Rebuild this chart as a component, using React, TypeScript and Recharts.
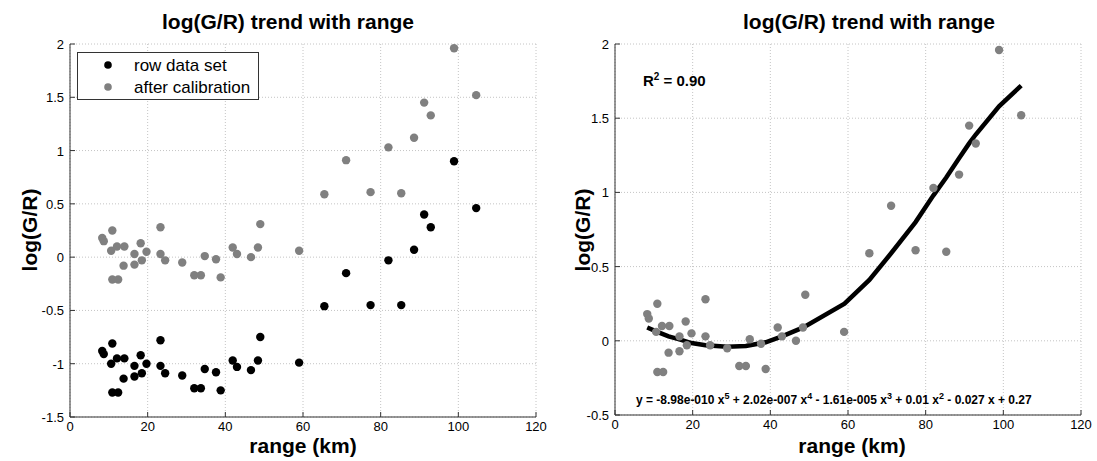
import React from 'react';
import { ScatterChart, ComposedChart, Scatter, Line, XAxis, YAxis, CartesianGrid, Legend } from 'recharts';

// ---- data ----
const rangeKm = [8.3, 8.7, 10.9, 10.6, 12.1, 14.0, 10.9, 12.4, 13.8, 16.6, 16.6, 18.2, 18.5, 19.7, 23.3, 23.3, 24.5, 28.9, 32.0, 33.7, 34.7, 37.6, 38.8, 41.9, 43.0, 46.6, 48.4, 49.0, 59.0, 65.5, 71.1, 77.4, 82.0, 85.3, 88.6, 91.2, 92.9, 98.9, 104.6];
const rawLog = [-0.88, -0.91, -0.81, -1.0, -0.95, -0.95, -1.27, -1.27, -1.14, -1.02, -1.12, -0.92, -1.09, -1.0, -0.78, -1.02, -1.09, -1.11, -1.23, -1.23, -1.05, -1.08, -1.25, -0.97, -1.03, -1.06, -0.97, -0.75, -0.99, -0.46, -0.15, -0.45, -0.03, -0.45, 0.07, 0.4, 0.28, 0.9, 0.46];
const calibLog = [0.18, 0.15, 0.25, 0.06, 0.1, 0.1, -0.21, -0.21, -0.08, 0.03, -0.07, 0.13, -0.03, 0.05, 0.28, 0.03, -0.03, -0.05, -0.17, -0.17, 0.01, -0.02, -0.19, 0.09, 0.03, 0.0, 0.09, 0.31, 0.06, 0.59, 0.91, 0.61, 1.03, 0.6, 1.12, 1.45, 1.33, 1.96, 1.52];
const fitRange = [8.3, 10.9, 13.8, 16.6, 19.7, 23.3, 28.9, 33.7, 38.8, 43.0, 48.5, 59.1, 65.5, 71.1, 77.4, 82.0, 85.3, 88.6, 91.2, 92.9, 98.9, 104.6];
const fitLog = [0.09, 0.06, 0.03, 0.01, -0.015, -0.03, -0.04, -0.035, -0.01, 0.03, 0.09, 0.25, 0.41, 0.59, 0.8, 0.98, 1.1, 1.23, 1.33, 1.39, 1.58, 1.72];
const xTicks = [0, 20, 40, 60, 80, 100, 120];
const yTicksLeft = [-1.5, -1, -0.5, 0, 0.5, 1, 1.5, 2];
const yTicksRight = [-0.5, 0, 0.5, 1, 1.5, 2];
const titleText = 'log(G/R) trend with range';
const xLabel = 'range (km)';
const yLabel = 'log(G/R)';
const legendNames = ['row data set', 'after calibration'];

const rawData = rangeKm.map((x, i) => ({ x, y: rawLog[i] }));
const calibData = rangeKm.map((x, i) => ({ x, y: calibLog[i] }));
const fitData = fitRange.map((x, i) => ({ x, y: fitLog[i] }));

const FONT = '"Liberation Sans", Arial, Helvetica, sans-serif';
const AX = '#333';
const GRAY = '#808080';

const BottomTick = (p: any) => (
  <g>
    <line x1={p.x} y1={p.y} x2={p.x} y2={p.y - 5} stroke={AX} />
    <text x={p.x} y={p.y + 14} textAnchor="middle" fontSize={13} fontFamily={FONT} fill="#000">{p.payload.value}</text>
  </g>
);
const LeftTick = (p: any) => (
  <g>
    <line x1={p.x} y1={p.y} x2={p.x + 5} y2={p.y} stroke={AX} />
    <text x={p.x - 6} y={p.y + 5} textAnchor="end" fontSize={13} fontFamily={FONT} fill="#000">{p.payload.value}</text>
  </g>
);
const TopTick = (p: any) => <line x1={p.x} y1={p.y} x2={p.x} y2={p.y + 5} stroke={AX} />;
const RightTick = (p: any) => <line x1={p.x} y1={p.y} x2={p.x - 5} y2={p.y} stroke={AX} />;

const dot = (color: string, r: number) => (p: any) => <circle cx={p.cx} cy={p.cy} r={r} fill={color} />;

const LegendBox = () => (
  <svg width={182} height={48} style={{ display: 'block' }}>
    <rect x={0.5} y={0.5} width={181} height={47} fill="#fff" stroke={AX} />
    <circle cx={31} cy={13} r={3.8} fill="#000" />
    <circle cx={31} cy={35} r={3.8} fill={GRAY} />
    <text x={57} y={19} fontSize={17} fontFamily={FONT} fill="#000">{legendNames[0]}</text>
    <text x={57} y={41} fontSize={17} fontFamily={FONT} fill="#000">{legendNames[1]}</text>
  </svg>
);

export default function App() {
  return (
    <div style={{ position: 'absolute', left: 0, top: 0, width: 1097, height: 461, background: '#fff' }}>
      <div style={{ position: 'absolute', left: 0, top: 0 }}>
        <ScatterChart width={550} height={461} margin={{ top: 44, right: 14, bottom: 0, left: 0 }}>
          <CartesianGrid stroke="#c4c4c4" strokeDasharray="1 2" />
          <XAxis xAxisId={0} type="number" dataKey="x" domain={[0, 120]} ticks={xTicks} interval={0} height={44}
            tickSize={0} tickMargin={0} tickLine={false} axisLine={{ stroke: AX }} tick={<BottomTick />} allowDataOverflow />
          <XAxis xAxisId="top" orientation="top" type="number" dataKey="x" domain={[0, 120]} ticks={xTicks} interval={0} height={0}
            tickSize={0} tickMargin={0} tickLine={false} axisLine={{ stroke: AX }} tick={<TopTick />} allowDataOverflow />
          <YAxis yAxisId={0} type="number" dataKey="y" domain={[-1.5, 2]} ticks={yTicksLeft} interval={0} width={70}
            tickSize={0} tickMargin={0} tickLine={false} axisLine={{ stroke: AX }} tick={<LeftTick />} allowDataOverflow />
          <YAxis yAxisId="right" orientation="right" type="number" dataKey="y" domain={[-1.5, 2]} ticks={yTicksLeft} interval={0} width={0}
            tickSize={0} tickMargin={0} tickLine={false} axisLine={{ stroke: AX }} tick={<RightTick />} allowDataOverflow />
          <Legend layout="vertical" align="center" verticalAlign="middle" content={<LegendBox />}
            wrapperStyle={{ position: 'absolute', left: 77, top: 52, width: 182, height: 48 }} />
          <Scatter name={legendNames[0]} data={rawData} fill="#000" shape={dot('#000', 4.2)} isAnimationActive={false} />
          <Scatter name={legendNames[1]} data={calibData} fill={GRAY} shape={dot(GRAY, 4.2)} isAnimationActive={false} />
        </ScatterChart>
      </div>
      <div style={{ position: 'absolute', left: 550, top: 0 }}>
        <ComposedChart width={547} height={461} margin={{ top: 44, right: 16, bottom: 0, left: 0 }}>
          <CartesianGrid stroke="#c4c4c4" strokeDasharray="1 2" />
          <XAxis xAxisId={0} type="number" dataKey="x" domain={[0, 120]} ticks={xTicks} interval={0} height={46}
            tickSize={0} tickMargin={0} tickLine={false} axisLine={{ stroke: AX }} tick={<BottomTick />} allowDataOverflow />
          <XAxis xAxisId="top" orientation="top" type="number" dataKey="x" domain={[0, 120]} ticks={xTicks} interval={0} height={0}
            tickSize={0} tickMargin={0} tickLine={false} axisLine={{ stroke: AX }} tick={<TopTick />} allowDataOverflow />
          <YAxis yAxisId={0} type="number" dataKey="y" domain={[-0.5, 2]} ticks={yTicksRight} interval={0} width={65}
            tickSize={0} tickMargin={0} tickLine={false} axisLine={{ stroke: AX }} tick={<LeftTick />} allowDataOverflow />
          <YAxis yAxisId="right" orientation="right" type="number" dataKey="y" domain={[-0.5, 2]} ticks={yTicksRight} interval={0} width={0}
            tickSize={0} tickMargin={0} tickLine={false} axisLine={{ stroke: AX }} tick={<RightTick />} allowDataOverflow />
          <Scatter data={calibData} dataKey="y" fill={GRAY} shape={dot(GRAY, 4.2)} isAnimationActive={false} />
          <Line data={fitData} dataKey="y" type="linear" stroke="#000" strokeWidth={4.5} dot={false} isAnimationActive={false} />
        </ComposedChart>
      </div>
      <svg width={1097} height={461} style={{ position: 'absolute', left: 0, top: 0, pointerEvents: 'none' }}>
        <g fontFamily={FONT} fontWeight="bold" fill="#000">
          <text x={288} y={29} fontSize={21} textAnchor="middle">{titleText}</text>
          <text x={869} y={29} fontSize={21} textAnchor="middle">{titleText}</text>
          <text x={303} y={453} fontSize={21} textAnchor="middle">{xLabel}</text>
          <text x={852} y={453} fontSize={21} textAnchor="middle">{xLabel}</text>
          <text transform="translate(37,230) rotate(-90)" fontSize={21} textAnchor="middle">{yLabel}</text>
          <text transform="translate(590,230) rotate(-90)" fontSize={21} textAnchor="middle">{yLabel}</text>
          <text x={643} y={86} fontSize={15}>R<tspan dy={-6} fontSize={10}>2</tspan><tspan dy={6}> = 0.90</tspan></text>
          <text x={636} y={404} fontSize={12}>
            y = -8.98e-010 x<tspan dy={-5} fontSize={9}>5</tspan>
            <tspan dy={5}> + 2.02e-007 x</tspan><tspan dy={-5} fontSize={9}>4</tspan>
            <tspan dy={5}> - 1.61e-005 x</tspan><tspan dy={-5} fontSize={9}>3</tspan>
            <tspan dy={5}> + 0.01 x</tspan><tspan dy={-5} fontSize={9}>2</tspan>
            <tspan dy={5}> - 0.027 x + 0.27</tspan>
          </text>
        </g>
      </svg>
    </div>
  );
}
